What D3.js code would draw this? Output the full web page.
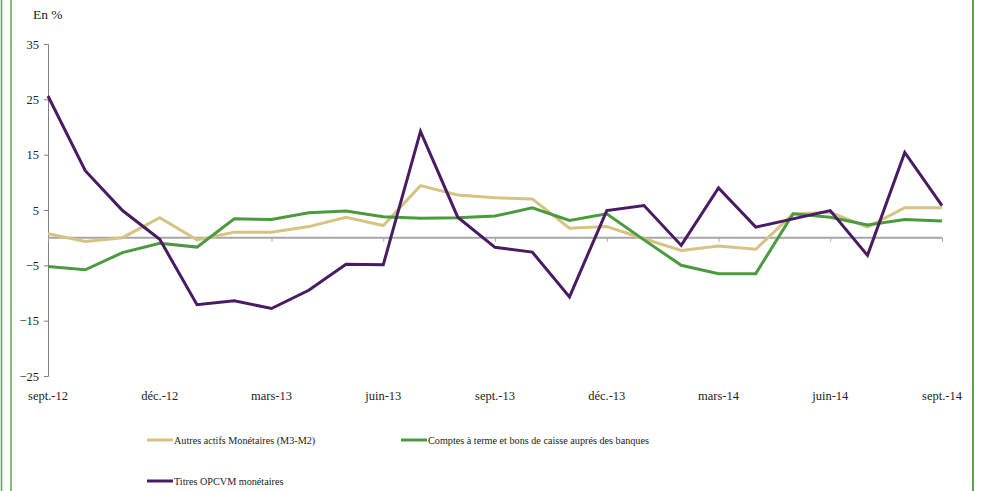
<!DOCTYPE html>
<html>
<head>
<meta charset="utf-8">
<script src="https://cdn.jsdelivr.net/npm/d3@7"></script>
<style>
  body { margin: 0; background: #fff; }
  svg { display: block; }
</style>
</head>
<body>
<svg id="chart" width="986" height="491"></svg>
<script>
const months = ["sept.-12","oct.-12","nov.-12","déc.-12","janv.-13","févr.-13","mars-13","avr.-13","mai-13","juin-13","juil.-13","août-13","sept.-13","oct.-13","nov.-13","déc.-13","janv.-14","févr.-14","mars-14","avr.-14","mai-14","juin-14","juil.-14","août-14","sept.-14"];
const autresActifs = [0.7,-0.7,0.0,3.6,-0.4,1.0,1.0,2.0,3.7,2.2,9.4,7.7,7.2,7.0,1.7,2.0,-0.2,-2.3,-1.5,-2.1,4.3,4.6,1.9,5.4,5.4];
const comptesTerme = [-5.2,-5.8,-2.7,-1.0,-1.7,3.4,3.3,4.5,4.8,3.8,3.5,3.6,3.9,5.4,3.1,4.3,-0.4,-5.0,-6.5,-6.5,4.3,3.7,2.3,3.3,3.0];
const titresOPCVM = [25.6,12.1,4.9,-0.3,-12.1,-11.4,-12.8,-9.5,-4.8,-4.9,19.2,3.7,-1.75,-2.6,-10.7,4.9,5.8,-1.4,9.0,1.9,3.4,4.9,-3.2,15.4,5.8];
const yTicks = [35,25,15,5,-5,-15,-25];
const xTickLabels = ["sept.-12","déc.-12","mars-13","juin-13","sept.-13","déc.-13","mars-14","juin-14","sept.-14"];
const seriesNames = ["Autres actifs Monétaires (M3-M2)","Comptes à terme et bons de caisse auprés des banques","Titres OPCVM monétaires"];
const colors = ["#D6C282","#4C9A3F","#481B62"];

const FONT = "'Liberation Serif'";
const FS = "12.5px";
const svg = d3.select("#chart");

// frame lines
svg.append("line").attr("x1",1.5).attr("x2",1.5).attr("y1",0).attr("y2",491).attr("stroke","#5aa54a").attr("stroke-width",1.5);
svg.append("line").attr("x1",11).attr("x2",11).attr("y1",0).attr("y2",491).attr("stroke","#5aa54a").attr("stroke-width",1.5);
svg.append("line").attr("x1",973).attr("x2",973).attr("y1",0).attr("y2",491).attr("stroke","#5aa54a").attr("stroke-width",2);

const x = d3.scalePoint().domain(months).range([48, 942]);
const y = d3.scaleLinear().domain([-25, 35]).range([376, 44]);

// Y axis
const yAxis = d3.axisLeft(y).tickValues(yTicks).tickSize(4).tickPadding(5).tickFormat(d3.format("d"));
const gy = svg.append("g").attr("transform","translate(48,0)").call(yAxis);
gy.select(".domain").attr("stroke","#808080").attr("stroke-width",1);
gy.selectAll(".tick line").attr("stroke","#808080");
gy.selectAll(".tick text").style("font-family", FONT).style("font-size", FS).attr("fill","#222");

// zero line with ticks
const xAxis = d3.axisBottom(x).tickValues(months.filter((d,i)=>i%3===0)).tickSize(4).tickFormat("");
const gx = svg.append("g").attr("transform",`translate(0,${y(0)})`).call(xAxis);
gx.select(".domain").attr("stroke","#A6A6A6").attr("stroke-width",2).attr("d",`M48,0H942`);
gx.selectAll(".tick line").attr("stroke","#A6A6A6");

// x labels at bottom
svg.append("g").selectAll("text").data(xTickLabels).join("text")
  .attr("x", d => x(d)).attr("y", 400)
  .attr("text-anchor","middle").style("font-family", FONT).style("font-size", FS).attr("fill","#222").text(d => d);

// En %
svg.append("text").attr("x",33).attr("y",19).style("font-family", FONT).style("font-size", "13.5px").attr("fill","#222").text("En %");

// lines
const allSeries = [autresActifs, comptesTerme, titresOPCVM];
const line = d3.line().x((d,i)=>x(months[i])).y(d=>y(d));
allSeries.forEach((s, k) => {
  svg.append("path").datum(s).attr("d", line).attr("fill","none")
    .attr("stroke", colors[k]).attr("stroke-width", 3).attr("stroke-linejoin","miter");
});

// legend
const legendPos = [[147,440],[401,440],[147,481]];
seriesNames.forEach((n,k) => {
  const [lx, ly] = legendPos[k];
  svg.append("line").attr("x1",lx).attr("x2",lx+26).attr("y1",ly).attr("y2",ly)
    .attr("stroke",colors[k]).attr("stroke-width",3);
  svg.append("text").attr("x",lx+27).attr("y",ly+3.8).style("font-family", FONT).style("font-size", "10.2px").attr("fill","#222").text(n);
});
</script>
</body>
</html>
